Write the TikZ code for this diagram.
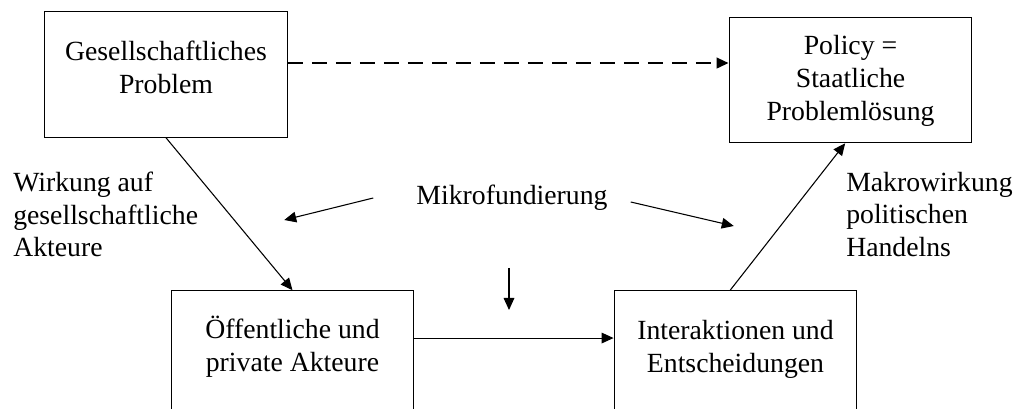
\documentclass[tikz,border=0pt]{standalone}
\usepackage{fontspec}
\setmainfont{Liberation Serif}
\usetikzlibrary{positioning,calc,arrows.meta}

\begin{document}
\begin{tikzpicture}[
    x=0.75pt, y=-0.75pt,
    box/.style={draw, line width=0.9pt, minimum width=182pt, minimum height=94pt, inner sep=0pt},
    txt/.style={inner sep=0pt, align=center, font=\fontsize{20.8}{24.5}\selectfont},
    arr/.style={line width=0.8pt, -{Triangle[length=9pt,width=8pt]}},
    dasharr/.style={line width=1.6pt, dash pattern=on 11pt off 7pt, -{Triangle[length=9pt,width=8pt]}}
]
    \useasboundingbox (0,0) rectangle (1016,409);
    \clip (0,0) rectangle (1016,409);

    \node[box] (prob) at (166,74.5) {};
    \node[box] (pol) at (850.5,80) {};
    \node[box] (akt) at (292.5,353.5) {};
    \node[box] (ent) at (735.5,353.5) {};

    \node[txt, below=22.25pt of prob.north] (probt) {Gesellschaftliches\\Problem};
    \node[txt, below=14pt of pol.north] (polt) {Policy =\\Staatliche\\Problemlösung};
    \node[txt, below=19.25pt of akt.north] (aktt) {Öffentliche und\\private Akteure};
    \node[txt, below=22.25pt of ent.north] (entt) {Interaktionen und\\Entscheidungen};

    \node[txt, align=left, anchor=north west] (wirk) at (13,171.7) {Wirkung auf\\gesellschaftliche\\Akteure};
    \node[txt, align=left, anchor=north west] (makro) at (846,171.7) {Makrowirkung\\politischen\\Handelns};
    \node[txt, anchor=base] (mf) at (512,205) {Mikrofundierung};

    \coordinate (d1) at ([yshift=8.6pt]prob.east);
    \coordinate (h1) at ([yshift=11.6pt]akt.east);
    \coordinate (ml1) at ($(mf.base west)+(-43,-7)$);
    \coordinate (ml2) at ($(mf.base west)+(-132,15)$);
    \coordinate (mr1) at ($(mf.base east)+(23,-3)$);
    \coordinate (mr2) at ($(mf.base east)+(126,21)$);
    \coordinate (md1) at ($(mf.base)+(-3,63)$);
    \coordinate (md2) at ($(mf.base)+(-3,105)$);

    \draw[dasharr] (d1) -- (d1 -| pol.west);
    \draw[arr] (prob.south) -- (akt.north);
    \draw[arr] ([xshift=-4pt]ent.north) -- ([xshift=-4pt]pol.south);
    \draw[arr] (h1) -- (h1 -| ent.west);
    \draw[arr] (ml1) -- (ml2);
    \draw[arr] (mr1) -- (mr2);
    \draw[arr] (md1) -- (md2);
\end{tikzpicture}
\end{document}
